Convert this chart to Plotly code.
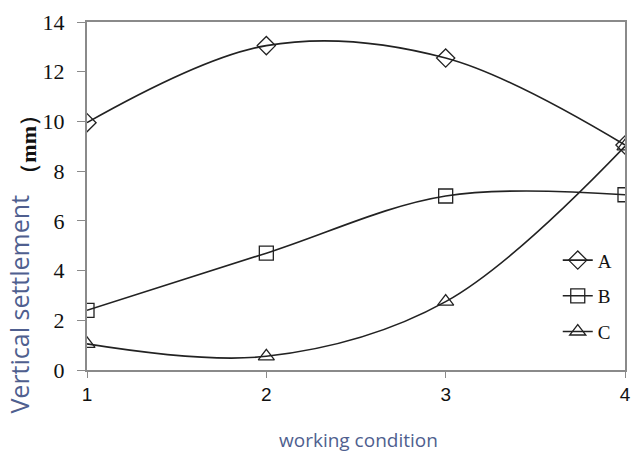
import plotly.graph_objects as go

# working condition
conditions = [1, 2, 3, 4]

# vertical settlement (mm)
series_a = [9.95, 13.05, 12.55, 9.05]
series_b = [2.4, 4.7, 7.0, 7.05]
series_c = [1.05, 0.55, 2.75, 9.0]

y_ticks = [0, 2, 4, 6, 8, 10, 12, 14]

axis_grey = "#8a8a8a"
title_blue = "#4f5f8f"

fig = go.Figure()

styles = [
    ("A", series_a, "diamond-open", 14),
    ("B", series_b, "square-open", 14),
    ("C", series_c, "triangle-up-open", 14),
]
for name, vals, sym, size in styles:
    fig.add_trace(go.Scatter(
        x=conditions, y=vals,
        mode="lines+markers",
        name=name, legendgroup=name,
        line=dict(color="#222222", width=1.6, shape="spline", smoothing=1.0),
        marker=dict(symbol=sym, size=size, color="#222222", line=dict(width=1.3)),
    ))

fig.update_xaxes(
    range=[1, 4],
    tickvals=conditions,
    ticks="outside", ticklen=6, tickcolor=axis_grey,
    showline=True, linecolor=axis_grey, linewidth=2, mirror=True,
    showgrid=False, zeroline=False,
    ticklabeloverflow="allow",
    tickfont=dict(family="Liberation Sans", size=19, color="#111111"),
)
fig.update_yaxes(
    range=[0, 14],
    tickvals=y_ticks,
    ticks="outside", ticklen=8, tickcolor=axis_grey,
    showline=True, linecolor=axis_grey, linewidth=2, mirror=True,
    showgrid=False, zeroline=False,
    ticklabelstandoff=8,
    ticklabeloverflow="allow",
    tickfont=dict(family="Liberation Serif", size=22, color="#111111"),
)

fig.add_annotation(
    text="working condition", xref="paper", yref="paper",
    x=0.505, y=-0.2, xanchor="center", yanchor="middle", showarrow=False,
    font=dict(family="Open Sans", size=19, color=title_blue),
)
fig.add_annotation(
    text="Vertical settlement", xref="paper", yref="paper",
    x=-0.127, y=0.19, xanchor="center", yanchor="middle", showarrow=False,
    textangle=-90,
    font=dict(family="Open Sans", size=25, color=title_blue),
)
fig.add_annotation(
    text="<b>（mm）</b>", xref="paper", yref="paper",
    x=-0.108, y=0.65, xanchor="center", yanchor="middle", showarrow=False,
    textangle=-90,
    font=dict(family="Liberation Serif", size=22, color="#111111"),
)

fig.update_layout(
    width=641, height=468,
    margin=dict(l=87, r=10, t=12, b=98),
    paper_bgcolor="white", plot_bgcolor="white",
    showlegend=True,
    legend=dict(
        x=0.875, y=0.37, xanchor="left", yanchor="top",
        bgcolor="rgba(0,0,0,0)",
        traceorder="grouped", tracegroupgap=8,
        font=dict(family="Liberation Serif", size=19, color="#111111"),
        itemwidth=30,
    ),
)

fig.write_html("out.html", config={"displayModeBar": False},
               post_script="document.body.style.margin='0';")
